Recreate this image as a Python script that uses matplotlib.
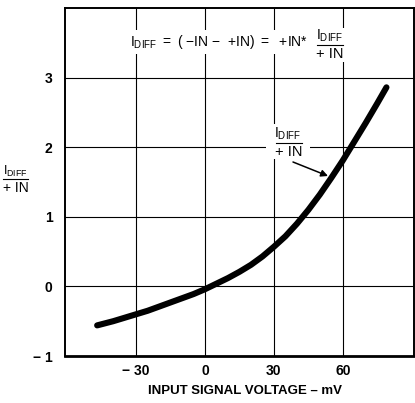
import numpy as np
import matplotlib.pyplot as plt
from matplotlib.lines import Line2D
from matplotlib.patches import Rectangle

plt.rcParams['font.family'] = 'Liberation Sans'
plt.rcParams['mathtext.fontset'] = 'custom'
plt.rcParams['mathtext.rm'] = 'Liberation Sans'

# curve (mV, Idiff/+IN)
volt = [-47, -40, -35, -30, -25, -20, -15, -10, -5, 0, 5, 10, 15, 20, 25,
        30, 35, 40, 45, 50, 55, 60, 65, 70, 75, 79]
ratio = [-0.56, -0.50, -0.45, -0.40, -0.35, -0.29, -0.23, -0.17, -0.11, -0.04,
         0.04, 0.12, 0.21, 0.31, 0.43, 0.57, 0.72, 0.90, 1.10, 1.32, 1.56,
         1.81, 2.08, 2.35, 2.63, 2.86]

xticks = [-30, 0, 30, 60]
xlabels = ['\u2212 30', '0', '30', '60']
yticks = [-1, 0, 1, 2, 3]
ylabels = ['\u2212 1', '0', '1', '2', '3']

W, H = 415, 403
fig = plt.figure(figsize=(W / 100, H / 100), dpi=100)
ax = fig.add_axes([65 / W, (H - 356) / H, (414 - 65) / W, (356 - 8) / H])

ax.plot(volt, ratio, color='black', lw=4.4, solid_capstyle='round', zorder=3)

ax.set_xlim(-61, 91)
ax.set_ylim(-1, 4)
ax.set_xticks(xticks)
ax.set_xticklabels(xlabels)
ax.set_yticks(yticks)
ax.set_yticklabels(ylabels)
ax.tick_params(length=0, labelsize=10, pad=6)
ax.tick_params(axis='y', pad=9)
for lab in ax.get_xticklabels() + ax.get_yticklabels():
    lab.set_fontweight('bold')
ax.grid(True, color='black', lw=0.8)
for s in ax.spines.values():
    s.set_linewidth(1.4)
ax.spines['bottom'].set_linewidth(2)


def px(x, y):
    # pixel position from top-left corner -> figure fraction
    return x / W, 1 - y / H


def txt(x, y, s, size=10, ha='center', bg=False, **kw):
    if bg:
        kw['bbox'] = dict(facecolor='white', edgecolor='none', pad=2)
    fig.text(*px(x, y), s, ha=ha, va='center', fontsize=size, **kw)


def bar(x0, x1, y):
    (a, b), (c, _) = px(x0, y), px(x1, y)
    fig.add_artist(Line2D([a, c], [b, b], color='black', lw=0.8, zorder=10,
                          transform=fig.transFigure))


def blank(x0, y0, x1, y1):
    # white patch that breaks the grid behind a label
    a, b = px(x0, y1)
    fig.add_artist(Rectangle((a, b), (x1 - x0) / W, (y1 - y0) / H,
                             facecolor='white', edgecolor='none', zorder=2,
                             transform=fig.transFigure))


sub = r'I$_{\mathrm{DIFF}}$'

# x axis title
txt(245, 391, 'INPUT SIGNAL VOLTAGE \u2013 mV', size=9.5, weight='bold')

# formula on top
txt(130, 42, sub + r' $=$ ( $-$IN $-$  +IN) $=$  +IN*', size=10, ha='left', bg=True)
blank(314, 28, 346, 62)
txt(330, 36, sub, size=10)
bar(317, 343, 45)
txt(330, 54, '+ IN', size=10.5)

# label near the curve
blank(266, 124, 310, 159)
txt(288, 134, sub, size=10)
bar(276, 302, 143)
txt(289, 152, '+ IN', size=10.5)
ax.annotate('', xy=(328, H - 176), xytext=(293, H - 162),
            xycoords='figure pixels', textcoords='figure pixels',
            arrowprops=dict(arrowstyle='-|>', color='black', lw=1.1,
                            mutation_scale=10, shrinkA=0, shrinkB=0))

# y axis title
txt(15, 171, sub, size=9)
bar(3, 28, 179)
txt(16, 188, '+ IN', size=10)

fig.savefig('out.png', dpi=100)
